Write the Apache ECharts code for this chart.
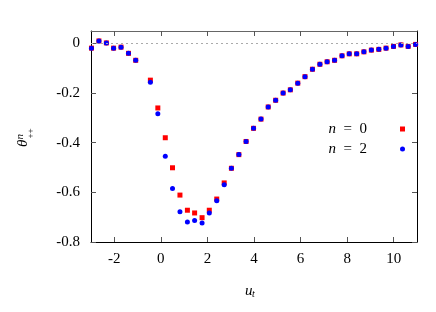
<!DOCTYPE html>
<html>
<head>
<meta charset="utf-8">
<script src="https://cdn.jsdelivr.net/npm/echarts@6/dist/echarts.min.js"></script>
<style>html,body{margin:0;padding:0;background:#fff;}#c{width:436px;height:312px;}</style>
</head>
<body>
<div id="c"></div>
<script>
const xValues = [-2.98,-2.66,-2.34,-2.03,-1.71,-1.39,-1.08,-0.45,-0.13,0.19,0.50,0.82,1.14,1.45,1.77,2.08,2.40,2.72,3.03,3.35,3.66,3.98,4.30,4.61,4.93,5.25,5.56,5.88,6.19,6.51,6.83,7.14,7.46,7.78,8.09,8.41,8.72,9.04,9.36,9.67,9.99,10.31,10.62,10.94];
const theta0 = [-0.019,0.010,0.002,-0.019,-0.015,-0.040,-0.068,-0.148,-0.260,-0.380,-0.501,-0.611,-0.672,-0.683,-0.702,-0.672,-0.627,-0.562,-0.503,-0.448,-0.395,-0.342,-0.305,-0.256,-0.229,-0.200,-0.187,-0.160,-0.134,-0.104,-0.084,-0.074,-0.068,-0.050,-0.042,-0.042,-0.034,-0.027,-0.024,-0.019,-0.012,-0.006,-0.012,-0.004];
const theta2 = [-0.019,0.010,0.002,-0.019,-0.015,-0.040,-0.068,-0.156,-0.283,-0.455,-0.584,-0.678,-0.719,-0.713,-0.723,-0.683,-0.634,-0.569,-0.503,-0.448,-0.395,-0.342,-0.305,-0.256,-0.229,-0.200,-0.187,-0.160,-0.134,-0.104,-0.084,-0.074,-0.068,-0.050,-0.042,-0.042,-0.034,-0.027,-0.024,-0.019,-0.012,-0.006,-0.012,-0.004];
const xTicks = [-2,0,2,4,6,8,10];
const yTicks = [-0.8,-0.6,-0.4,-0.2,0];
const seriesNames = ['n = 0','n = 2'];

const FONT = '"Liberation Serif", "Times New Roman", serif';
const chart = echarts.init(document.getElementById('c'), null, {renderer:'canvas'});
const pairs = (ys) => xValues.map((x,i)=>[x, ys[i]]);
const tickStyle = {show:true, inside:true, length:5, lineStyle:{color:'#555', width:1}};
function ax(extra){
  return Object.assign({type:'value', splitLine:{show:false},
    axisLine:{show:true, onZero:false, lineStyle:{color:'#000', width:1}}}, extra);
}
chart.setOption({
  animation:false,
  backgroundColor:'#fff',
  grid:{left:91, right:19, top:31, bottom:70, containLabel:false},
  xAxis:[
    ax({position:'bottom', min:-3, max:11,
      axisTick:Object.assign({}, tickStyle, {customValues:xTicks}),
      axisLabel:{show:true, customValues:xTicks, margin:10, color:'#000', fontFamily:FONT, fontSize:15}}),
    ax({position:'top', min:-3, max:11,
      axisLine:{show:true, onZero:false, lineStyle:{color:'#666', width:1}},
      axisTick:Object.assign({}, tickStyle, {customValues:xTicks}),
      axisLabel:{show:false}})
  ],
  yAxis:[
    ax({position:'left', min:-0.8, max:0.05,
      axisTick:Object.assign({}, tickStyle, {customValues:yTicks}),
      axisLabel:{show:true, customValues:yTicks, margin:11, color:'#000', fontFamily:FONT, fontSize:15}}),
    ax({position:'right', min:-0.8, max:0.05,
      axisTick:Object.assign({}, tickStyle, {customValues:yTicks}),
      axisLabel:{show:false}})
  ],
  legend:{
    orient:'vertical', right:26, top:114, itemGap:0, itemWidth:5, itemHeight:5, align:'right',
    data:seriesNames,
    formatter:function(name){
      const parts = name.split(' = ');
      return '{i|'+parts[0]+'}{r|  =  '+parts[1]+'}{g| }';
    },
    textStyle:{fontFamily:FONT, fontSize:15, color:'#000', lineHeight:20,
      rich:{
        i:{fontFamily:FONT, fontSize:15, fontStyle:'italic', color:'#000', lineHeight:20},
        r:{fontFamily:FONT, fontSize:15, color:'#000', lineHeight:20},
        g:{width:28, lineHeight:20}
      }}
  },
  series:[
    {name:seriesNames[0], type:'scatter', symbol:'rect', symbolSize:5, data:pairs(theta0),
      itemStyle:{color:'#ff0000', opacity:1},
      markLine:{silent:true, symbol:'none', label:{show:false},
        lineStyle:{color:'#aaa', type:[2,3], width:1}, data:[{yAxis:0}]}},
    {name:seriesNames[1], type:'scatter', symbol:'circle', symbolSize:5, data:pairs(theta2),
      itemStyle:{color:'#0000ff', opacity:1}}
  ],
  graphic:[
    {type:'group', x:23, y:147, rotation:Math.PI/2, children:[
      {type:'text', x:0, y:0.5, style:{text:'θ', font:'italic 15px '+FONT, fill:'#000', textAlign:'left', textVerticalAlign:'middle'}},
      {type:'text', x:7.5, y:-2.5, style:{text:'n', font:'italic 11px '+FONT, fill:'#000', textAlign:'left', textVerticalAlign:'middle'}},
      {type:'text', x:8.5, y:8, style:{text:'++', font:'9px '+FONT, fill:'#000', textAlign:'left', textVerticalAlign:'middle'}}
    ]},
    {type:'text', x:245, y:291, style:{text:'u', font:'italic 15px '+FONT, fill:'#000', textAlign:'left', textVerticalAlign:'middle'}},
    {type:'text', x:252, y:294, style:{text:'t', font:'italic 10px '+FONT, fill:'#000', textAlign:'left', textVerticalAlign:'middle'}}
  ]
});
</script>
</body>
</html>
